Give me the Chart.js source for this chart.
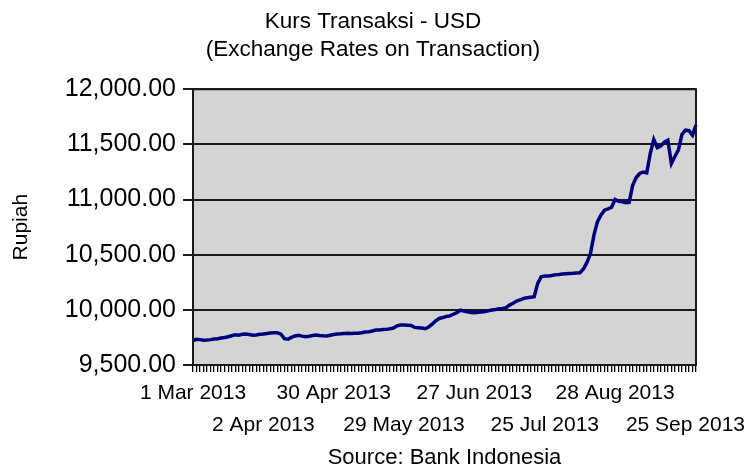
<!DOCTYPE html>
<html>
<head>
<meta charset="utf-8">
<script src="https://cdn.jsdelivr.net/npm/chart.js@4.4.1/dist/chart.umd.min.js"></script>
<style>
  html, body { margin: 0; padding: 0; background: #fff; }
  #wrap { width: 746px; height: 473px; position: relative; }
</style>
</head>
<body>
<div id="wrap"><canvas id="kursChart"></canvas></div>
<script>
// Trading days (Bank Indonesia), Mar - Sep 2013
const tradingDays = {
    Mar: [1, 4, 5, 6, 7, 8, 11, 13, 14, 15, 18, 19, 20, 21, 22, 25, 26, 27, 28],
    Apr: [1, 2, 3, 4, 5, 8, 9, 10, 11, 12, 15, 16, 17, 18, 19, 22, 23, 24, 25, 26, 29, 30],
    May: [1, 2, 3, 6, 7, 8, 10, 13, 14, 15, 16, 17, 20, 21, 22, 23, 24, 27, 28, 29, 30, 31],
    Jun: [3, 4, 5, 7, 10, 11, 12, 13, 14, 17, 18, 19, 20, 21, 24, 25, 26, 27, 28],
    Jul: [1, 2, 3, 4, 5, 8, 9, 10, 11, 12, 15, 16, 17, 18, 19, 22, 23, 24, 25, 26, 29, 30, 31],
    Aug: [1, 2, 5, 12, 13, 14, 15, 16, 19, 20, 21, 22, 23, 26, 27, 28, 29, 30],
    Sep: [2, 3, 4, 5, 6, 9, 10, 11, 12, 13, 16, 17, 18, 19, 20, 23, 24, 25, 26, 27, 30]
};

// Kurs transaksi USD (Rupiah)
const rates = [
    9720, 9733, 9730, 9725, 9726, 9730, 9735, 9738, 9745, 9750,
    9756, 9765, 9774, 9770, 9778, 9781, 9776, 9769, 9772, 9778,
    9781, 9785, 9790, 9793, 9792, 9780, 9738, 9733, 9750, 9763,
    9770, 9762, 9756, 9760, 9768, 9772, 9768, 9765, 9763, 9770,
    9776, 9781, 9783, 9786, 9787, 9785, 9788, 9787, 9793, 9800,
    9802, 9808, 9817, 9818, 9821, 9823, 9828, 9835, 9855, 9862,
    9862, 9860, 9858, 9841, 9838, 9835, 9829, 9845, 9871, 9900,
    9922, 9930, 9940, 9945, 9960, 9975, 9997, 9990, 9983, 9976,
    9974, 9978, 9980, 9985, 9992, 9998, 10003, 10010, 10013, 10020,
    10043, 10060, 10080, 10090, 10104, 10110, 10115, 10119, 10240, 10300,
    10306, 10306, 10312, 10318, 10321, 10325, 10328, 10330, 10332, 10335,
    10336, 10370, 10430, 10510, 10680, 10800, 10860, 10904, 10915, 10930,
    11001, 10985, 10979, 10972, 10975, 11130, 11200, 11236, 11250, 11242,
    11418, 11544, 11470, 11484, 11520, 11538, 11327, 11390, 11450, 11590,
    11629, 11625, 11584, 11674
];

// Dates that carry a label under the x axis
const tickLabels = [
    '1 Mar 2013', '2 Apr 2013', '30 Apr 2013', '29 May 2013',
    '27 Jun 2013', '25 Jul 2013', '28 Aug 2013', '25 Sep 2013'
];

const labels = [];
Object.keys(tradingDays).forEach(month => {
    tradingDays[month].forEach(day => labels.push(day + ' ' + month + ' 2013'));
});

const FONT = "'Liberation Sans', Arial, sans-serif";
Chart.defaults.font.family = FONT;
Chart.defaults.color = '#000';

// Gray plot background and frame
const plotFrame = {
    id: 'plotFrame',
    beforeDraw(chart) {
        const { ctx, chartArea: a } = chart;
        ctx.save();
        ctx.fillStyle = '#d4d4d4';
        ctx.fillRect(a.left, a.top, a.right - a.left, a.bottom - a.top);
        ctx.restore();
    },
    afterDraw(chart) {
        const { ctx, chartArea: a } = chart;
        ctx.save();
        ctx.strokeStyle = '#1a1a1a';
        ctx.lineWidth = 2;
        ctx.strokeRect(a.left, a.top, a.right - a.left, a.bottom - a.top);
        ctx.restore();
    }
};

new Chart(document.getElementById('kursChart'), {
    type: 'line',
    data: {
        labels: labels,
        datasets: [{
            label: 'USD',
            data: rates,
            borderColor: '#00007f',
            borderWidth: 3.5,
            pointRadius: 0,
            tension: 0,
            fill: false
        }]
    },
    options: {
        responsive: true,
        maintainAspectRatio: false,
        animation: false,
        layout: { padding: 0 },
        plugins: {
            legend: { display: false },
            tooltip: { enabled: false },
            title: {
                display: true,
                text: ['Kurs Transaksi - USD', '(Exchange Rates on Transaction)'],
                font: { size: 22.5, weight: 'normal', lineHeight: 1.25 },
                color: '#000',
                padding: { top: 8, bottom: 25 }
            }
        },
        scales: {
            x: {
                offset: false,
                grid: {
                    display: true,
                    drawOnChartArea: false,
                    drawTicks: true,
                    tickLength: 7,
                    color: '#000',
                    lineWidth: 1.3
                },
                border: { display: true, color: '#1a1a1a', width: 2 },
                ticks: {
                    autoSkip: false,
                    maxRotation: 0,
                    minRotation: 0,
                    padding: 5,
                    font: { size: 21, lineHeight: 1.52 },
                    color: '#000',
                    callback: function (value, index) {
                        const name = labels[index];
                        const pos = tickLabels.indexOf(name);
                        if (pos < 0) return '';
                        return pos % 2 === 0 ? [name, ''] : ['', name];
                    }
                },
                title: {
                    display: true,
                    text: 'Source: Bank Indonesia',
                    font: { size: 22 },
                    color: '#000',
                    padding: { top: 0, bottom: 2 }
                },
                afterFit: function (scale) { scale.height = 108; }
            },
            y: {
                min: 9500,
                max: 12000,
                grid: {
                    color: '#1a1a1a',
                    lineWidth: 2,
                    tickLength: 10
                },
                border: { display: true, color: '#1a1a1a', width: 2 },
                ticks: {
                    stepSize: 500,
                    padding: 7,
                    font: { size: 25 },
                    color: '#000',
                    callback: v => v.toLocaleString('en-US', { minimumFractionDigits: 2, maximumFractionDigits: 2 })
                },
                title: {
                    display: true,
                    text: 'Rupiah',
                    font: { size: 21 },
                    color: '#000',
                    padding: { top: 9, bottom: 0 }
                },
                afterFit: function (scale) { scale.width = 193; }
            },
            // empty right margin so the title stays centred on the whole image
            yRight: {
                position: 'right',
                display: true,
                grid: { display: false, drawTicks: false },
                border: { display: false },
                ticks: { display: false },
                afterFit: function (scale) { scale.width = 50; }
            }
        }
    },
    plugins: [plotFrame]
});
</script>
</body>
</html>
